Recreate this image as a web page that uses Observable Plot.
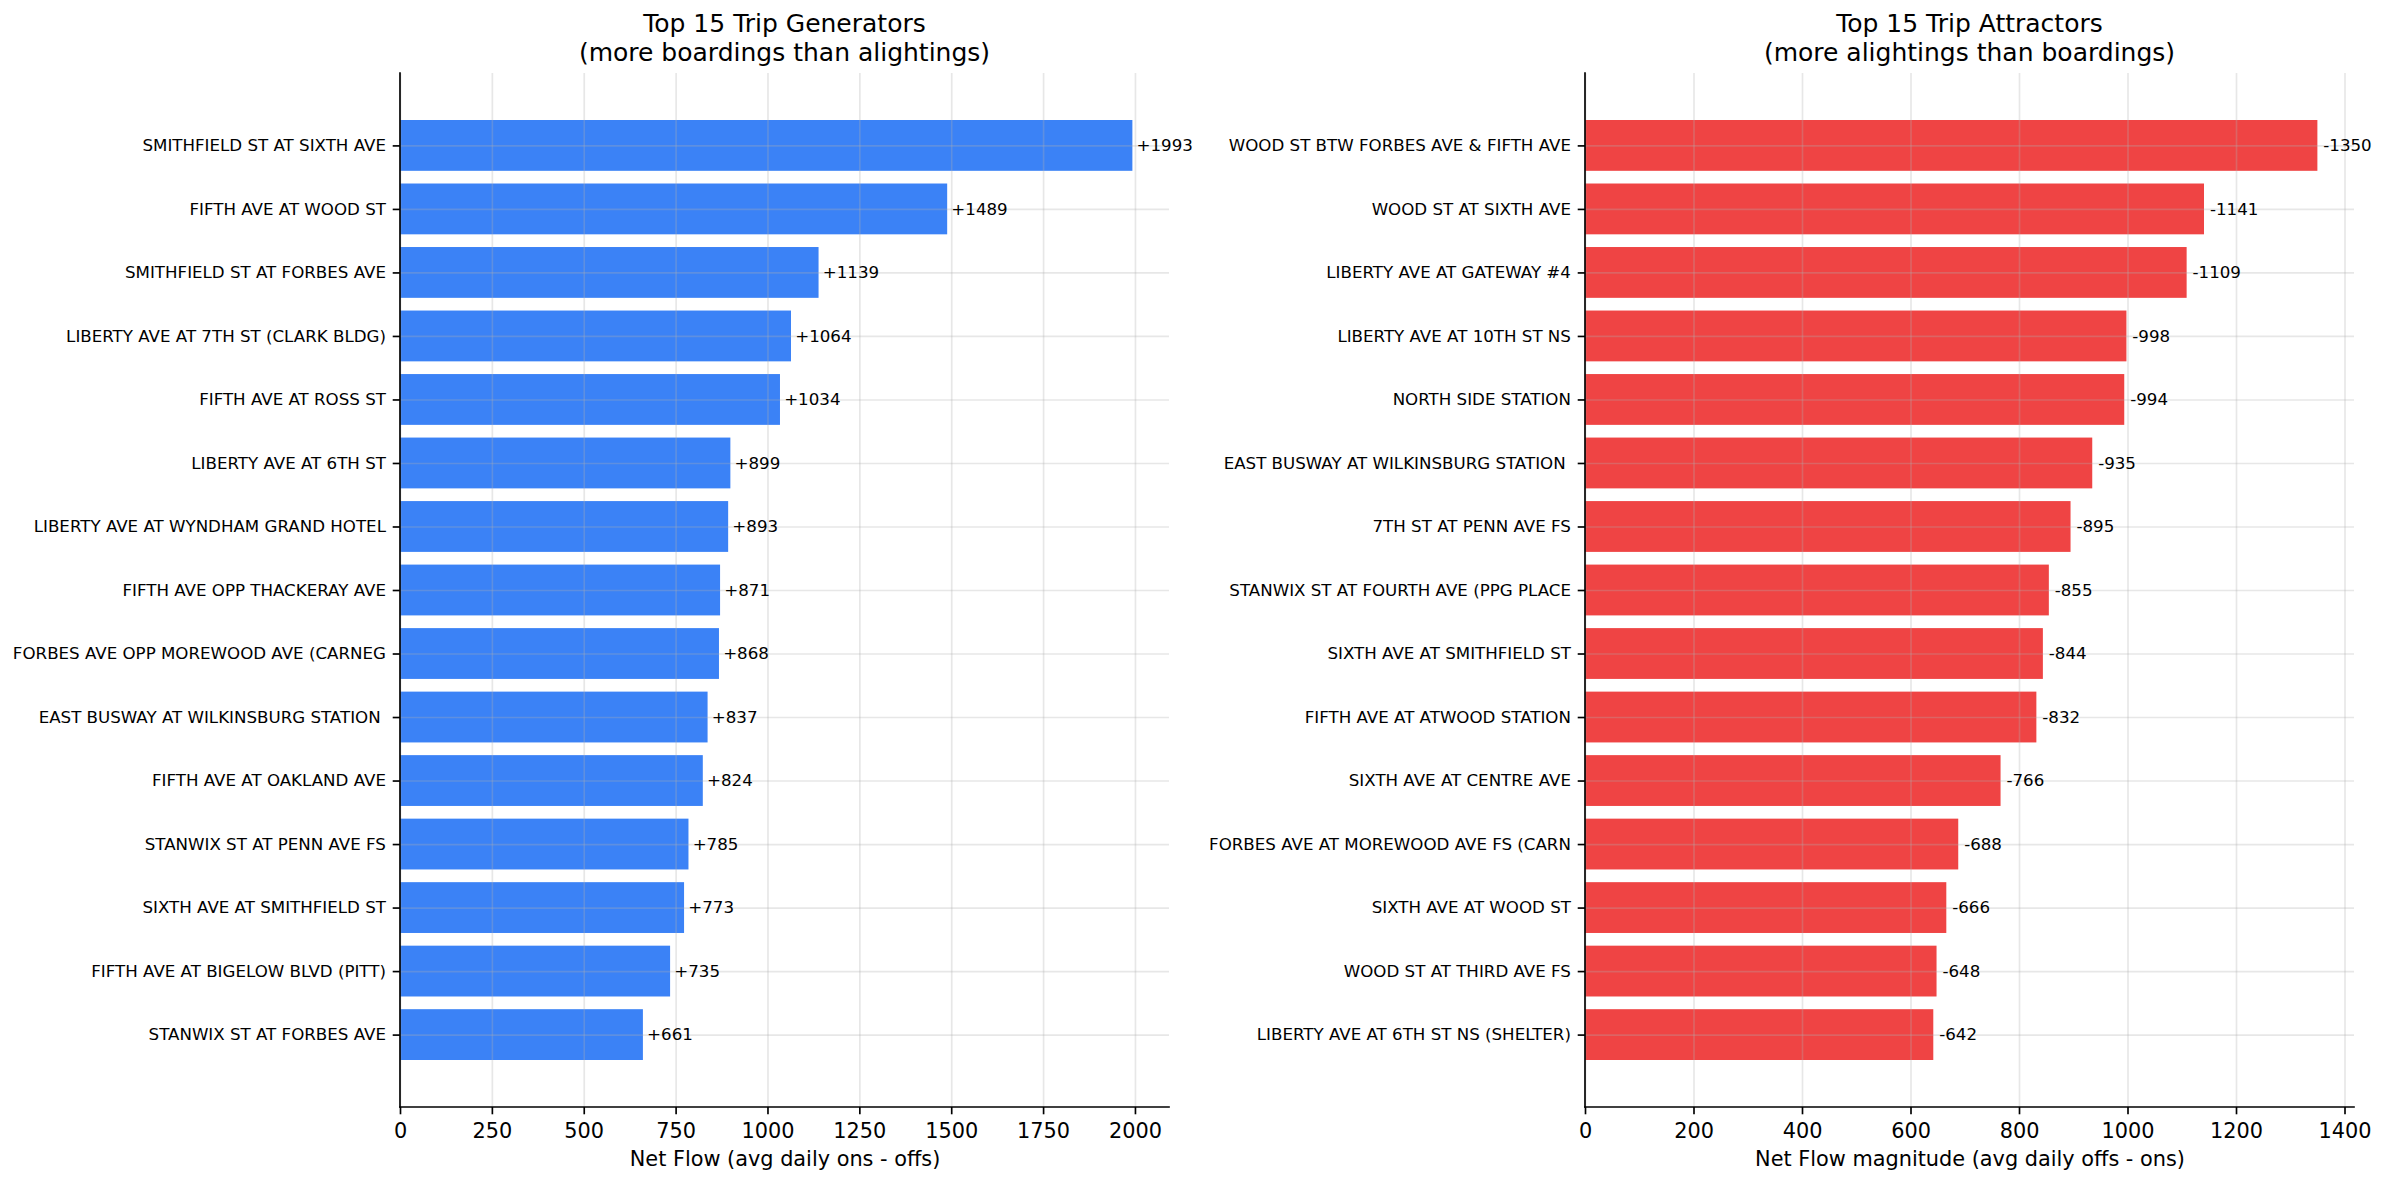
<!DOCTYPE html>
<html>
<head>
<meta charset="utf-8">
<script src="https://cdn.jsdelivr.net/npm/d3@7"></script>
<script src="https://cdn.jsdelivr.net/npm/@observablehq/plot@0.6"></script>
<style>
  html, body { margin: 0; padding: 0; background: #fff; }
  body { width: 2385px; height: 1185px; position: relative; overflow: hidden; font-family: "DejaVu Sans", sans-serif; }
  .panel { position: absolute; top: 0; height: 1185px; }
  .title { position: absolute; top: 10px; font-size: 25px; line-height: 28.5px; text-align: center; color: #000; white-space: nowrap; }
  svg text { white-space: pre; }
</style>
</head>
<body>
<div id="left" class="panel" style="left:0px;width:1192px"></div>
<div id="right" class="panel" style="left:1192px;width:1193px"></div>
<script>
// ---- data ----
const genNames = [
  "SMITHFIELD ST AT SIXTH AVE",
  "FIFTH AVE AT WOOD ST",
  "SMITHFIELD ST AT FORBES AVE",
  "LIBERTY AVE AT 7TH ST (CLARK BLDG)",
  "FIFTH AVE AT ROSS ST",
  "LIBERTY AVE AT 6TH ST",
  "LIBERTY AVE AT WYNDHAM GRAND HOTEL",
  "FIFTH AVE OPP THACKERAY AVE",
  "FORBES AVE OPP MOREWOOD AVE (CARNEG",
  "EAST BUSWAY AT WILKINSBURG STATION ",
  "FIFTH AVE AT OAKLAND AVE",
  "STANWIX ST AT PENN AVE FS",
  "SIXTH AVE AT SMITHFIELD ST",
  "FIFTH AVE AT BIGELOW BLVD (PITT)",
  "STANWIX ST AT FORBES AVE"
];
const genValues = [1993, 1489, 1139, 1064, 1034, 899, 893, 871, 868, 837, 824, 785, 773, 735, 661];

const attNames = [
  "WOOD ST BTW FORBES AVE & FIFTH AVE",
  "WOOD ST AT SIXTH AVE",
  "LIBERTY AVE AT GATEWAY #4",
  "LIBERTY AVE AT 10TH ST NS",
  "NORTH SIDE STATION",
  "EAST BUSWAY AT WILKINSBURG STATION ",
  "7TH ST AT PENN AVE FS",
  "STANWIX ST AT FOURTH AVE (PPG PLACE",
  "SIXTH AVE AT SMITHFIELD ST",
  "FIFTH AVE AT ATWOOD STATION",
  "SIXTH AVE AT CENTRE AVE",
  "FORBES AVE AT MOREWOOD AVE FS (CARN",
  "SIXTH AVE AT WOOD ST",
  "WOOD ST AT THIRD AVE FS",
  "LIBERTY AVE AT 6TH ST NS (SHELTER)"
];
const attValues = [1350, 1141, 1109, 998, 994, 935, 895, 855, 844, 832, 766, 688, 666, 648, 642];

const genTicks = [0, 250, 500, 750, 1000, 1250, 1500, 1750, 2000];
const attTicks = [0, 200, 400, 600, 800, 1000, 1200, 1400];

const genTitle = ["Top 15 Trip Generators", "(more boardings than alightings)"];
const attTitle = ["Top 15 Trip Attractors", "(more alightings than boardings)"];
const genXLabel = "Net Flow (avg daily ons - offs)";
const attXLabel = "Net Flow magnitude (avg daily offs - ons)";

// ---- drawing ----
const PT = 150 / 72;
const TOP = 73;

function spines(index, scales, values, dims) {
  const g = d3.create("svg:g").attr("stroke", "#000").attr("stroke-width", 0.8 * PT).attr("stroke-linecap", "square");
  const x0 = dims.marginLeft, x1 = dims.width - dims.marginRight;
  const y0 = dims.marginTop, y1 = dims.height - dims.marginBottom;
  g.append("line").attr("x1", x0).attr("x2", x0).attr("y1", y0).attr("y2", y1);
  g.append("line").attr("x1", x0).attr("x2", x1).attr("y1", y1).attr("y2", y1);
  return g.node();
}

function panel(el, {names, values, ticks, color, sign, title, xLabel, width, marginLeft, marginRight}) {
  const data = names.map((name, i) => ({name, value: values[i]}));
  const xMax = d3.max(values) * 1.05;
  const height = 1185 - TOP;
  const chart = Plot.plot({
    width, height,
    marginLeft, marginRight, marginTop: 0, marginBottom: 1185 - 1107,
    style: {fontFamily: "DejaVu Sans", fontSize: (8 * PT) + "px", color: "#000", background: "transparent", overflow: "visible"},
    x: {domain: [0, xMax], round: false},
    y: {type: "band", domain: names, paddingInner: 0.2, paddingOuter: 0.74, align: 0.5, round: false},
    marks: [
      Plot.barX(data, {x: "value", y: "name", fill: color}),
      Plot.gridX({ticks, stroke: "#b0b0b0", strokeOpacity: 0.3, strokeWidth: 0.8 * PT}),
      Plot.gridY({stroke: "#b0b0b0", strokeOpacity: 0.3, strokeWidth: 0.8 * PT}),
      Plot.text(data, {x: d => d.value + 10, y: "name", text: d => sign + d.value, textAnchor: "start", lineAnchor: "middle", fontSize: 8 * PT, fill: "#000"}),
      Plot.axisX({ticks, tickFormat: d => String(d), tickSize: 3.5 * PT, tickPadding: 8.5, strokeWidth: 0.8 * PT, fontSize: 10 * PT, label: null}),
      Plot.axisY({tickSize: 3.5 * PT, tickPadding: 3.5 * PT, strokeWidth: 0.8 * PT, fontSize: 8 * PT, label: null}),
      Plot.text([xLabel], {text: d => d, frameAnchor: "bottom", dy: 52, lineAnchor: "middle", fontSize: 10 * PT, fill: "#000"}),
      spines
    ]
  });
  chart.style.position = "absolute";
  chart.style.top = TOP + "px";
  chart.style.left = "0px";
  el.appendChild(chart);

  const t = document.createElement("div");
  t.className = "title";
  t.style.left = marginLeft + "px";
  t.style.width = (width - marginLeft - marginRight) + "px";
  title.forEach(line => {
    const d = document.createElement("div");
    d.textContent = line;
    t.appendChild(d);
  });
  el.appendChild(t);
}

panel(document.getElementById("left"), {
  names: genNames, values: genValues, ticks: genTicks, color: "#3b82f6", sign: "+",
  title: genTitle, xLabel: genXLabel, width: 1192, marginLeft: 400, marginRight: 23
});
panel(document.getElementById("right"), {
  names: attNames, values: attValues, ticks: attTicks, color: "#ef4444", sign: "-",
  title: attTitle, xLabel: attXLabel, width: 1193, marginLeft: 393, marginRight: 31
});
</script>
</body>
</html>
